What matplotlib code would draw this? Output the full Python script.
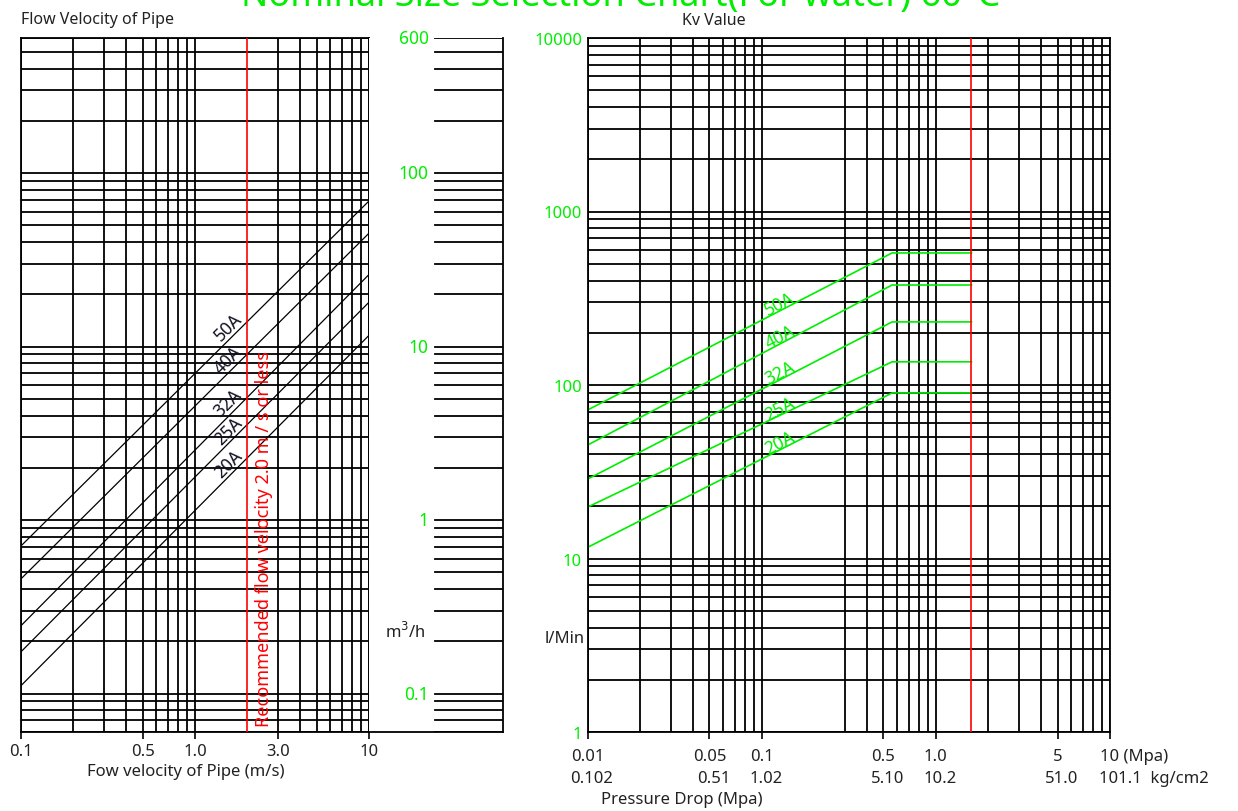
import numpy as np
import matplotlib
matplotlib.use('Agg')
import matplotlib.pyplot as plt

plt.rcParams['font.family'] = ['Noto Sans', 'DejaVu Sans']

GREEN = '#00ee00'
RED = '#ff0000'
INK = '#222222'

# left chart: flow of pipe (m3/h) against flow velocity (m/s)
sizes = ['20A', '25A', '32A', '40A', '50A']
velocity_ends = [0.1, 10.0]
flow_at_start = [0.111, 0.174, 0.246, 0.458, 0.709]
flow_at_end = [11.6, 18.0, 26.0, 45.0, 69.0]
recommended_velocity = 2.0
vel_ticks = [0.1, 0.5, 1.0, 3.0, 10]
vel_labels = ['0.1', '0.5', '1.0', '3.0', '10']
flow_ticks = [600, 100, 10, 1, 0.1]
flow_labels = ['600', '100', '10', '1', '0.1']

# right chart: Kv value against pressure drop
pressure_pts = [0.01, 0.56, 1.6]
kv_start = [11.6, 19.8, 28.7, 45.1, 71.8]
kv_flat = [90, 136, 231, 377, 577]
pressure_limit = 1.6
dp_ticks = [0.01, 0.05, 0.1, 0.5, 1.0, 5, 10]
dp_labels_mpa = ['0.01', '0.05', '0.1', '0.5', '1.0', '5', '10 (Mpa)']
dp_labels_kg = ['0.102', '0.51', '1.02', '5.10', '10.2', '51.0', '101.1  kg/cm2']
kv_ticks = [1, 10, 100, 1000, 10000]
kv_labels = ['1', '10', '100', '1000', '10000']


def log_grid(lo, hi, skip=()):
    vals = []
    for e in range(-3, 5):
        for m in range(1, 10):
            v = round(m * 10.0 ** e, 6)
            if lo <= v <= hi and v not in skip:
                vals.append(v)
    return vals


W, H = 1238, 812
fig = plt.figure(figsize=(W / 100, H / 100), dpi=100)


def box(x0, x1, y0, y1):
    return [x0 / W, 1 - y1 / H, (x1 - x0) / W, (y1 - y0) / H]


lw = 1.3

# ---- left chart
ax = fig.add_axes(box(21, 369, 39, 733))
ax.set_xscale('log')
ax.set_yscale('log')
ax.set_xlim(0.1, 10)
ax.set_ylim(0.06, 600)
for v in log_grid(0.1, 10, skip=(recommended_velocity,)):
    ax.axvline(v, color='k', lw=lw, zorder=1)
for q in log_grid(0.06, 600):
    ax.axhline(q, color='k', lw=lw, zorder=1)
ax.axvline(recommended_velocity, color=RED, lw=1.2, zorder=3)
ax.text(2.5, 0.065, 'Recommended flow velocity 2.0 m / s or less', color=RED,
        rotation=90, ha='center', va='bottom', fontsize=13, zorder=4)

for name, q0, q1 in zip(sizes, flow_at_start, flow_at_end):
    ax.plot(velocity_ends, [q0, q1], color='k', lw=0.9, zorder=2)
    vx = 1.55
    qy = np.exp(np.interp(np.log(vx), np.log(velocity_ends), np.log([q0, q1]))) * 1.2
    ax.text(vx, qy, name, rotation=45, ha='center', va='center',
            rotation_mode='anchor', fontsize=12.5, color='#111122', zorder=4)

ax.set_xticks(vel_ticks)
ax.set_xticklabels(vel_labels, fontsize=12, color=INK)
ax.minorticks_off()
ax.set_yticks([])
ax.tick_params(axis='x', direction='out', length=5, width=1.2, pad=3)
for s in ax.spines.values():
    s.set_linewidth(lw)
ax.text(0.474, -0.056, 'Fow velocity of Pipe (m/s)', transform=ax.transAxes,
        ha='center', va='center', fontsize=12, color=INK)
fig.text(21 / W, 1 - 20 / H, 'Flow Velocity of Pipe', ha='left', va='center',
         fontsize=11.5, color=INK)

# ---- scale strip for m3/h
axs = fig.add_axes(box(369, 503, 39, 733))
axs.set_yscale('log')
axs.set_xlim(0, 1)
axs.set_ylim(0.06, 600)
for q in log_grid(0.06, 600):
    axs.axhline(q, xmin=0.49, xmax=1, color='k', lw=lw)
axs.set_xticks([])
axs.set_yticks([])
axs.minorticks_off()
axs.spines['left'].set_visible(False)
axs.spines['top'].set_visible(False)
axs.spines['right'].set_linewidth(lw)
axs.spines['bottom'].set_linewidth(lw)
for q, lab in zip(flow_ticks, flow_labels):
    axs.text(0.445, q, lab, transform=axs.get_yaxis_transform(), ha='right',
             va='center', color=GREEN, fontsize=12.5)
axs.text(0.27, 0.2, 'm$^3$/h', transform=axs.get_yaxis_transform(), ha='center',
         va='bottom', color=INK, fontsize=12)

# ---- right chart
ax3 = fig.add_axes(box(587.7, 1110, 39, 733))
ax3.set_xscale('log')
ax3.set_yscale('log')
ax3.set_xlim(0.01, 10)
ax3.set_ylim(1, 10000)
for p in log_grid(0.01, 10, skip=(0.2,)):
    ax3.axvline(p, color='k', lw=lw, zorder=1)
for k in log_grid(1, 10000):
    ax3.axhline(k, color='k', lw=lw, zorder=1)
ax3.axvline(pressure_limit, color=RED, lw=1.2, zorder=3)

for name, k0, k1 in zip(sizes, kv_start, kv_flat):
    ax3.plot(pressure_pts, [k0, k1, k1], color=GREEN, lw=1.2, zorder=2)
    px = 0.127
    ky = np.exp(np.interp(np.log(px), np.log(pressure_pts[:2]), np.log([k0, k1]))) * 1.1
    ax3.text(px, ky, name, rotation=27, ha='center', va='center',
             rotation_mode='anchor', fontsize=12.5, color=GREEN, zorder=4)

ax3.set_xticks(dp_ticks)
ax3.set_xticklabels([])
ax3.set_yticks(kv_ticks)
ax3.set_yticklabels(kv_labels, fontsize=12, color=GREEN)
ax3.minorticks_off()
ax3.tick_params(axis='x', direction='out', length=5, width=1.2)
ax3.tick_params(axis='y', length=0, pad=4)
for s in ax3.spines.values():
    s.set_linewidth(lw)

last = len(dp_ticks) - 1
for i, (p, top, bottom) in enumerate(zip(dp_ticks, dp_labels_mpa, dp_labels_kg)):
    ha = 'left' if i == last else 'center'
    dx = -7 if i == last else 0
    ax3.annotate(top, xy=(p, 0), xycoords=('data', 'axes fraction'), xytext=(dx, -17),
                 textcoords='offset points', ha=ha, va='center', fontsize=12, color=INK)
    ax3.annotate(bottom, xy=(p, 0), xycoords=('data', 'axes fraction'), xytext=(dx - 1 if i == last else 3, -33),
                 textcoords='offset points', ha=ha, va='center', fontsize=12, color=INK)
ax3.text(0.18, -0.0965, 'Pressure Drop (Mpa)', transform=ax3.transAxes,
         ha='center', va='center', fontsize=12, color=INK)
ax3.text(-0.005, 3.5, 'l/Min', transform=ax3.get_yaxis_transform(), ha='right',
         va='center', fontsize=12, color=INK)
fig.text(714 / W, 1 - 21 / H, 'Kv Value', ha='center', va='center',
         fontsize=11.5, color=INK)

# big title, partly cut by the top edge (as in the original)
fig.text(621 / W, 1 - 6 / H, 'Nominal Size Selection Chart(For water) 60°C',
         ha='center', va='baseline', fontsize=26, color=GREEN)

fig.savefig('out.png', dpi=100, facecolor='white')
